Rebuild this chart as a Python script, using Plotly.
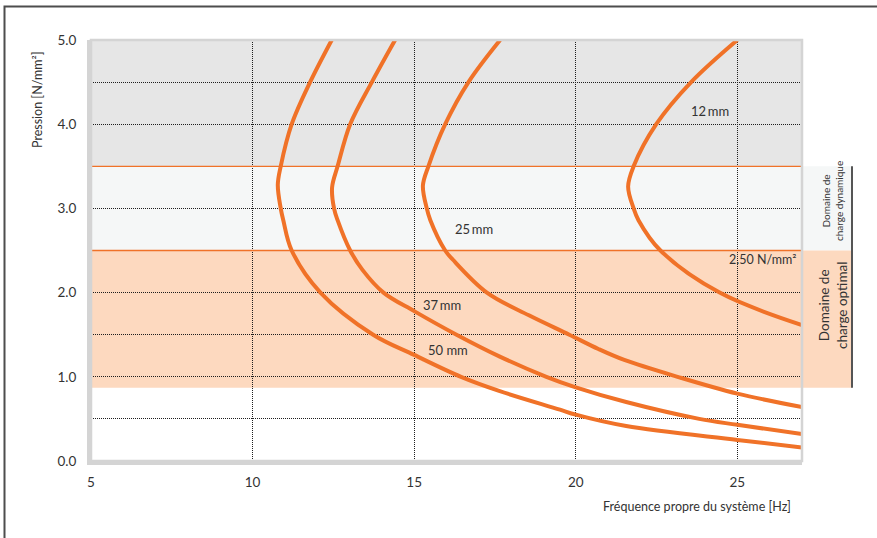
import plotly.graph_objects as go

# ---- data ----
x_12 = [25.0, 23.57, 22.49, 21.79, 21.62, 21.79, 21.94, 22.62, 24.45, 27.0]
y_12 = [5.0, 4.5, 4.0, 3.5, 3.26, 3.0, 2.86, 2.5, 2.0, 1.615]

x_25 = [17.66, 16.68, 15.96, 15.44, 15.27, 15.39, 15.5, 15.96, 16.2, 17.25, 18.55, 19.8, 20.7, 21.5, 23.15, 25.0, 27.0]
y_25 = [5.0, 4.5, 4.0, 3.5, 3.27, 3.0, 2.86, 2.5, 2.39, 2.0, 1.73, 1.5, 1.33, 1.20, 1.0, 0.80, 0.64]

x_37 = [14.41, 13.69, 13.02, 12.63, 12.46, 12.52, 12.63, 13.02, 13.4, 14.05, 15.0, 16.31, 17.65, 19.09, 20.0, 21.56, 23.82, 25.0, 27.0]
y_37 = [5.0, 4.5, 4.0, 3.5, 3.25, 3.0, 2.86, 2.5, 2.27, 2.0, 1.78, 1.5, 1.24, 1.0, 0.875, 0.70, 0.5, 0.43, 0.32]

x_50 = [12.45, 11.78, 11.21, 10.87, 10.78, 10.87, 10.95, 11.21, 12.1, 13.73, 15.0, 16.45, 17.65, 19.51, 20.0, 21.56, 25.0, 27.0]
y_50 = [5.0, 4.5, 4.0, 3.5, 3.28, 3.0, 2.86, 2.5, 2.0, 1.5, 1.26, 1.0, 0.83, 0.61, 0.55, 0.415, 0.25, 0.16]

curve_labels = ["12\u2009mm", "25\u2009mm", "37\u2009mm", "50 mm"]
label_x = [24.15, 16.85, 15.86, 16.05]
label_y = [4.16, 2.75, 1.85, 1.32]

x_ticks = [5, 10, 15, 20, 25]
y_ticks = [0, 1, 2, 3, 4, 5]
y_tick_text = ["0.0", "1.0", "2.0", "3.0", "4.0", "5.0"]

band_grey = (3.5, 5.0)
band_dyn = (2.5, 3.5)
band_opt = (0.87, 2.5)
limit_lines = [2.5, 3.5]

ORANGE = "#f07228"
TXT = "#333333"
GRID = "#1e1e1e"
FONT = "Lato"
DOT = "1px,1px"

# pixel geometry helpers (plot area 91..802 x 40..461)
L, R, T, B = 91, 802, 40, 461
def px(p):
    return (p - L) / (R - L)
def py(p):
    return (B - p) / (B - T)
def dy(v):
    return v / 5.0

fig = go.Figure()

for xs, ys in [(x_12, y_12), (x_25, y_25), (x_37, y_37), (x_50, y_50)]:
    fig.add_trace(go.Scatter(x=xs, y=ys, mode="lines",
                             line=dict(color=ORANGE, width=4, shape="spline", smoothing=1.0),
                             hoverinfo="skip", showlegend=False))

for lv in limit_lines:
    fig.add_trace(go.Scatter(x=[5, 27], y=[lv, lv], mode="lines",
                             line=dict(color=ORANGE, width=1.3),
                             hoverinfo="skip", showlegend=False))

shapes = []
shapes.append(dict(type="rect", xref="paper", yref="paper", x0=0, x1=1,
                   y0=dy(band_grey[0]), y1=dy(band_grey[1]),
                   fillcolor="#e6e6e6", line=dict(width=0), layer="below"))
shapes.append(dict(type="rect", xref="paper", yref="paper", x0=0, x1=px(852),
                   y0=dy(band_dyn[0]), y1=dy(band_dyn[1]),
                   fillcolor="#f5f7f7", line=dict(width=0), layer="below"))
shapes.append(dict(type="rect", xref="paper", yref="paper", x0=0, x1=px(852),
                   y0=dy(band_opt[0]), y1=dy(band_opt[1]),
                   fillcolor="#fdd9bf", line=dict(width=0), layer="below"))
shapes.append(dict(type="rect", xref="paper", yref="paper", x0=0, x1=1, y0=0, y1=1,
                   line=dict(color="#d4d4d4", width=2.5), layer="above"))
shapes.append(dict(type="line", xref="paper", yref="paper", x0=px(852), x1=px(852),
                   y0=dy(band_opt[0]), y1=dy(band_dyn[1]),
                   line=dict(color="#555555", width=2)))
# outer frame (right/bottom edges fall outside the page)
shapes.append(dict(type="rect", xref="paper", yref="paper", x0=px(4.5), x1=px(890),
                   y0=py(560), y1=py(6.5), line=dict(color="#4d4d4d", width=2),
                   fillcolor="rgba(0,0,0,0)", layer="above"))

annotations = []
for t, lx, ly in zip(curve_labels, label_x, label_y):
    annotations.append(dict(x=lx, y=ly, xref="x", yref="y", text=t, showarrow=False,
                            xanchor="center", yanchor="middle",
                            font=dict(family=FONT, size=13, color=TXT)))
annotations.append(dict(x=26.88, y=2.39, xref="x", yref="y", text="2.50 N/mm²",
                        xanchor="right", yanchor="middle", showarrow=False,
                        font=dict(family=FONT, size=12.5, color=TXT)))
annotations.append(dict(x=px(832), y=py(201), xref="paper", yref="paper",
                        text="Domaine de<br>charge dynamique", textangle=-90,
                        xanchor="center", yanchor="middle",
                        showarrow=False, font=dict(family=FONT, size=10, color=TXT)))
annotations.append(dict(x=px(833), y=py(306), xref="paper", yref="paper",
                        text="Domaine de<br>charge optimal", textangle=-90,
                        xanchor="center", yanchor="middle",
                        showarrow=False, font=dict(family=FONT, size=13.5, color=TXT)))
annotations.append(dict(x=px(37), y=py(100), xref="paper", yref="paper",
                        text="Pression [N/mm²]", textangle=-90, showarrow=False,
                        xanchor="center", yanchor="middle",
                        font=dict(family=FONT, size=12.5, color=TXT)))
annotations.append(dict(x=px(793), y=py(507), xref="paper", yref="paper",
                        text="Fréquence propre du système [Hz]", xanchor="right",
                        yanchor="middle",
                        showarrow=False, font=dict(family=FONT, size=12.5, color=TXT)))

fig.update_layout(
    width=877, height=538,
    margin=dict(l=L, r=877 - R, t=T, b=538 - B, pad=0),
    paper_bgcolor="white", plot_bgcolor="white",
    shapes=shapes, annotations=annotations,
    showlegend=False,
    font=dict(family=FONT, color=TXT),
)
fig.update_xaxes(range=[5, 27], tickvals=x_ticks, showgrid=True, gridcolor=GRID,
                 griddash=DOT, gridwidth=1, zeroline=False,
                 showline=True, linecolor="#d4d4d4", linewidth=4,
                 ticks="outside", ticklen=6, tickcolor="rgba(0,0,0,0)",
                 tickfont=dict(family=FONT, size=13.5, color=TXT))
fig.update_yaxes(range=[0, 5], tickvals=y_ticks, ticktext=y_tick_text,
                 showgrid=True, gridcolor=GRID, griddash=DOT, gridwidth=1,
                 minor=dict(dtick=0.5, showgrid=True, gridcolor=GRID, griddash=DOT, gridwidth=1),
                 zeroline=False, showline=True, linecolor="#d4d4d4", linewidth=4,
                 ticks="outside", ticklen=8, tickcolor="rgba(0,0,0,0)",
                 tickfont=dict(family=FONT, size=13.5, color=TXT))

fig.write_html("out.html", config={"displayModeBar": False},
               post_script="document.body.style.margin='0';")
